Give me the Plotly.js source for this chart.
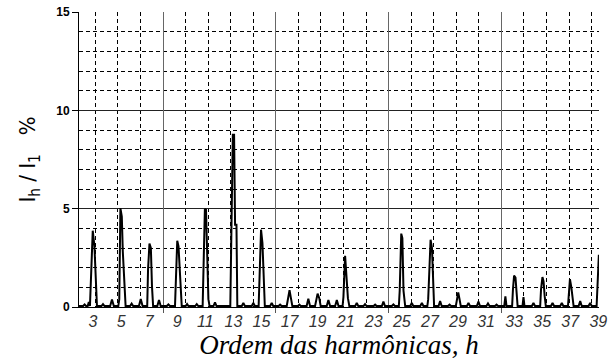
<!DOCTYPE html>
<html>
<head>
<meta charset="utf-8">
<script src="https://cdn.plot.ly/plotly-3.0.1.min.js"></script>
<style>html,body{margin:0;padding:0;background:#fff;}#chart{width:608px;height:362px;}</style>
</head>
<body>
<div id="chart"></div>
<script>
// Harmonic order (spectrum samples) and I_h / I_1 in %
const harmonicOrder = [
  2.0, 2.3, 2.4, 2.5, 2.62, 2.7, 2.78, 2.85, 2.98, 3.1, 3.2, 3.28,
  3.6, 3.71, 3.82, 4.22, 4.35, 4.48,
  4.8, 4.87, 4.95, 5.05, 5.12, 5.22, 5.32,
  5.64, 5.75, 5.86, 6.27, 6.4, 6.53,
  6.86, 6.92, 7.02, 7.12, 7.2, 7.28,
  7.58, 7.7, 7.82, 8.26, 8.37, 8.48,
  8.84, 8.9, 9.0, 9.09, 9.16, 9.24, 9.32,
  9.6, 9.7, 9.8, 10.28, 10.39, 10.5,
  10.81, 10.87, 10.97, 11.05, 11.13, 11.22, 11.3,
  11.58, 11.69, 11.8,
  12.78, 12.83, 12.88, 12.96, 13.05, 13.12, 13.22, 13.28,
  13.6, 13.71, 13.82, 14.31, 14.42, 14.53,
  14.8, 14.86, 14.97, 15.07, 15.16, 15.24,
  15.62, 15.73, 15.84, 16.22, 16.33, 16.44,
  16.8, 16.88, 17.0, 17.1, 17.2,
  17.6, 17.7, 17.8, 18.22, 18.34, 18.46,
  18.82, 18.9, 19.0, 19.12, 19.22,
  19.65, 19.77, 19.89, 20.25, 20.37, 20.49,
  20.78, 20.84, 20.96, 21.06, 21.16, 21.26,
  21.68, 21.79, 21.9, 22.27, 22.38, 22.49, 22.99, 23.1, 23.21,
  23.58, 23.69, 23.8, 24.29, 24.4, 24.51,
  24.79, 24.85, 24.96, 25.04, 25.12, 25.24,
  25.6, 25.71, 25.82, 26.32, 26.43, 26.54,
  26.82, 26.88, 26.95, 27.05, 27.15, 27.24, 27.3,
  27.62, 27.73, 27.84, 28.29, 28.4, 28.51,
  28.85, 28.92, 29.02, 29.1, 29.2,
  29.64, 29.75, 29.86, 30.35, 30.46, 30.57,
  31.03, 31.14, 31.25, 31.64, 31.75, 31.86,
  32.3, 32.38, 32.46,
  32.86, 32.92, 33.0, 33.1, 33.18, 33.25,
  33.6, 33.67, 33.74, 34.27, 34.38, 34.49,
  34.86, 34.92, 35.02, 35.1, 35.18, 35.26,
  35.63, 35.74, 35.85, 36.29, 36.4, 36.51,
  36.84, 36.9, 36.98, 37.08, 37.16, 37.24,
  37.6, 37.71, 37.82, 38.31, 38.42, 38.53,
  38.88, 38.94, 39.0, 39.04
];
const currentPct = [
  0.05, 0.05, 0.13, 0.05, 0.05, 0.25, 0.05, 1.64, 3.88, 3.08, 1.05, 0.05,
  0.05, 0.15, 0.05, 0.05, 0.38, 0.05,
  0.05, 0.4, 5.03, 4.6, 2.83, 1.05, 0.05,
  0.05, 0.17, 0.05, 0.05, 0.4, 0.05,
  0.05, 1.9, 3.22, 3.0, 1.05, 0.05,
  0.05, 0.36, 0.05, 0.05, 0.13, 0.05,
  0.05, 1.81, 3.37, 3.08, 2.06, 0.97, 0.05,
  0.05, 0.15, 0.05, 0.05, 0.15, 0.05,
  0.05, 2.32, 5.0, 4.95, 2.24, 0.4, 0.05,
  0.05, 0.24, 0.05,
  0.05, 2.75, 5.6, 8.76, 8.76, 4.18, 4.18, 0.05,
  0.05, 0.2, 0.05, 0.05, 0.2, 0.05,
  0.05, 1.64, 3.93, 3.25, 1.9, 0.05,
  0.05, 0.2, 0.05, 0.05, 0.12, 0.05,
  0.05, 0.4, 0.85, 0.45, 0.05,
  0.05, 0.12, 0.05, 0.05, 0.42, 0.05,
  0.05, 0.35, 0.68, 0.45, 0.05,
  0.05, 0.35, 0.05, 0.05, 0.35, 0.05,
  0.05, 0.5, 2.6, 1.7, 0.45, 0.05,
  0.05, 0.2, 0.05, 0.05, 0.15, 0.05, 0.05, 0.12, 0.05,
  0.05, 0.28, 0.05, 0.05, 0.13, 0.05,
  0.05, 0.83, 3.73, 3.5, 0.83, 0.05,
  0.05, 0.2, 0.05, 0.05, 0.2, 0.05,
  0.05, 0.4, 1.64, 3.42, 3.0, 0.9, 0.05,
  0.05, 0.3, 0.05, 0.05, 0.12, 0.05,
  0.05, 0.3, 0.74, 0.45, 0.05,
  0.05, 0.2, 0.05, 0.05, 0.28, 0.05,
  0.05, 0.18, 0.05, 0.05, 0.12, 0.05,
  0.05, 0.54, 0.05,
  0.05, 0.9, 1.6, 1.5, 0.9, 0.05,
  0.05, 0.5, 0.05, 0.05, 0.2, 0.05,
  0.05, 0.9, 1.52, 1.3, 0.55, 0.05,
  0.05, 0.2, 0.05, 0.05, 0.2, 0.05,
  0.05, 0.6, 1.42, 1.0, 0.6, 0.05,
  0.05, 0.3, 0.05, 0.05, 0.2, 0.05,
  0.05, 1.25, 2.66, 2.66
];
const xTickVals = [3, 5, 7, 9, 11, 13, 15, 17, 19, 21, 23, 25, 27, 29, 31, 33, 35, 37, 39];
const xTickText = ['3', '5', '7', '9', '11', '13', '15', '17', '19', '21', '23', '25', '27', '29', '31', '33', '35', '37', '39'];
const yTickVals = [0, 5, 10, 15];
const yTickText = ['0', '5', '10', '15'];

const traces = [
  {
    x: harmonicOrder, y: currentPct, type: 'scatter', mode: 'lines',
    line: {color: '#000', width: 2, shape: 'linear'},
    hoverinfo: 'x+y', showlegend: false
  },
  {
    x: [], y: [], type: 'scatter', mode: 'lines', xaxis: 'x2', yaxis: 'y',
    hoverinfo: 'skip', showlegend: false
  }
];

const layout = {
  width: 608, height: 362,
  margin: {l: 79, r: 9, t: 12, b: 55},
  paper_bgcolor: '#fff', plot_bgcolor: '#fff',
  showlegend: false,
  xaxis: {
    range: [2, 39.05], tickmode: 'array', tickvals: xTickVals, ticktext: xTickText,
    showgrid: false, zeroline: false, showline: true, linecolor: '#000', linewidth: 1,
    ticks: '', ticklen: 0,
    tickfont: {family: 'Liberation Sans, Arial, sans-serif', size: 16, color: '#333', style: 'italic'},
    title: {text: 'Ordem das harmônicas, h', standoff: 4,
      font: {family: 'Liberation Serif, Times New Roman, serif', size: 27, color: '#000', style: 'italic'}},
    automargin: false, fixedrange: true
  },
  xaxis2: {
    overlaying: 'x', anchor: 'y', side: 'bottom',
    range: [1.275, 24.33], tickmode: 'linear', tick0: 0, dtick: 5,
    showticklabels: false, ticks: 'outside', ticklen: 5, tickcolor: '#555', tickwidth: 1,
    showgrid: true, gridcolor: '#666', gridwidth: 1, zeroline: false, showline: false,
    minor: {tickmode: 'linear', tick0: 0, dtick: 1, showgrid: true, gridcolor: '#000', gridwidth: 1, griddash: '4px,3px', ticks: ''},
    layer: 'below traces', fixedrange: true
  },
  yaxis: {
    range: [0, 15], tickmode: 'array', tickvals: yTickVals, ticktext: yTickText,
    showgrid: true, gridcolor: '#222', gridwidth: 1, zeroline: false,
    showline: true, linecolor: '#000', linewidth: 1,
    ticks: 'outside', ticklen: 6, tickcolor: '#000', tickwidth: 1,
    minor: {tickmode: 'linear', tick0: 0, dtick: 1, showgrid: true, gridcolor: '#000', gridwidth: 1, griddash: '4px,3px', ticks: ''},
    tickfont: {family: 'Liberation Sans, Arial, sans-serif', size: 12, color: '#000', weight: 'bold'},
    title: {text: 'I<sub>h</sub> / I<sub>1</sub>   %', standoff: 14,
      font: {family: 'Liberation Sans Narrow, DejaVu Sans Condensed, Liberation Sans, sans-serif', size: 22, color: '#000'}},
    automargin: false, fixedrange: true
  }
};

Plotly.newPlot('chart', traces, layout, {displayModeBar: false, staticPlot: true});
</script>
</body>
</html>
